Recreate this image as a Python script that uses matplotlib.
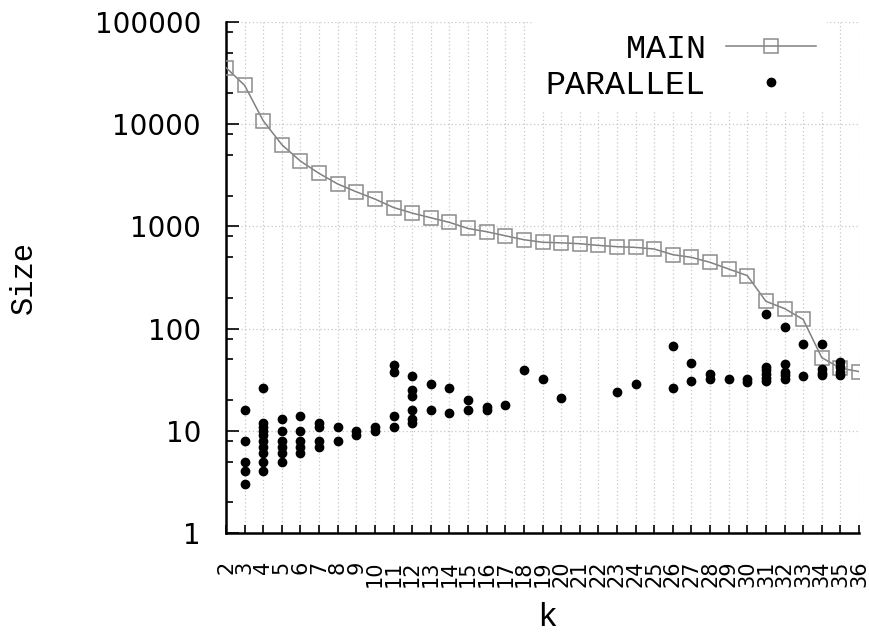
import numpy as np
import matplotlib.pyplot as plt
from matplotlib.ticker import FixedLocator, LogLocator, NullFormatter

# main component size for each k
k_main = list(range(2, 37))
size_main = [35800, 24000, 10800, 6300, 4350, 3300, 2600, 2180, 1850, 1530,
             1350, 1215, 1095, 955, 887, 810, 741, 700, 690, 677,
             652, 633, 623, 601, 529, 498, 445, 383, 330, 185,
             157, 123, 52, 41, 38]

# parallel components as (k, size)
parallel = [(3, 16), (3, 8), (3, 5), (3, 4), (3, 3),
            (4, 26), (4, 12), (4, 11), (4, 10), (4, 9), (4, 8), (4, 7), (4, 6), (4, 5), (4, 4),
            (5, 13), (5, 10), (5, 8), (5, 7), (5, 6), (5, 5),
            (6, 14), (6, 10), (6, 8), (6, 7), (6, 6),
            (7, 12), (7, 11), (7, 8), (7, 7),
            (8, 11), (8, 8),
            (9, 10), (9, 9),
            (10, 11), (10, 10),
            (11, 44), (11, 38), (11, 14), (11, 11),
            (12, 34), (12, 25), (12, 22), (12, 16), (12, 13), (12, 12),
            (13, 29), (13, 16),
            (14, 26), (14, 15),
            (15, 20), (15, 16),
            (16, 17), (16, 16),
            (17, 18), (18, 39), (19, 32), (20, 21), (23, 24), (24, 29),
            (26, 68), (26, 26),
            (27, 46), (27, 31),
            (28, 36), (28, 32),
            (29, 32),
            (30, 32), (30, 30),
            (31, 138), (31, 42), (31, 39), (31, 36), (31, 33), (31, 31),
            (32, 103), (32, 45), (32, 38), (32, 35), (32, 32),
            (33, 71), (33, 34),
            (34, 71), (34, 40), (34, 37), (34, 35),
            (35, 47), (35, 42), (35, 38), (35, 35)]

y_ticks = [1, 10, 100, 1000, 10000, 100000]
y_tick_labels = ['1', '10', '100', '1000', '10000', '100000']

par_k, par_size = zip(*parallel)

mono = 'Liberation Mono'

fig = plt.figure(figsize=(8.69, 6.41), dpi=100)
ax = fig.add_axes([226/869, 108/641, 633/869, 511/641])

ax.plot(k_main, size_main, color='#808080', lw=1.1, marker='s', ms=9.5,
        mfc='none', mec='#8c8c8c', mew=1.1, label='    MAIN', zorder=3)
ax.plot(par_k, par_size, ls='none', marker='o', ms=6, color='black',
        label='PARALLEL', zorder=4)

ax.set_yscale('log')
ax.set_xlim(2, 36)
ax.set_ylim(1, 100000)

ax.set_xticks(k_main)
ax.set_xticklabels([str(k) for k in k_main], rotation=90, fontsize=15,
                   family='DejaVu Sans')
ax.yaxis.set_major_locator(FixedLocator(y_ticks))
ax.set_yticklabels(y_tick_labels, fontsize=20, family='DejaVu Sans')
ax.yaxis.set_minor_locator(LogLocator(base=10, subs=(2, 5, 8)))
ax.yaxis.set_minor_formatter(NullFormatter())

ax.tick_params(axis='x', direction='in', length=6, width=1.2, pad=20)
ax.tick_params(axis='y', which='major', direction='in', length=9, width=1.2, pad=18)
ax.tick_params(axis='y', which='minor', direction='in', length=5, width=1.2)

# spines
ax.spines['right'].set_visible(False)
ax.spines['top'].set_visible(False)
ax.spines['left'].set_linewidth(1.8)
ax.spines['bottom'].set_linewidth(1.8)

# dotted grid
ax.set_axisbelow(True)
ax.grid(True, which='major', color='#c8c8c8', linestyle=(0, (1, 2)), linewidth=0.9)

ax.set_xlabel('k', family=mono, fontsize=24, labelpad=6)
ax.xaxis.set_label_coords(0.508, -0.135)
ax.set_ylabel('Size', family=mono, fontsize=22)
ax.yaxis.set_label_coords(-0.296, 0.5)

leg = ax.legend(loc='upper right', bbox_to_anchor=(0.95, 1.0), markerfirst=False,
                prop={'family': mono, 'size': 24}, frameon=True, fancybox=False,
                handlelength=2.7, handletextpad=0.6, labelspacing=0.15,
                borderpad=0.35, borderaxespad=0)
leg.get_frame().set_facecolor('white')
leg.get_frame().set_edgecolor('none')
leg.get_frame().set_alpha(1)

fig.savefig('out.png', dpi=100)
